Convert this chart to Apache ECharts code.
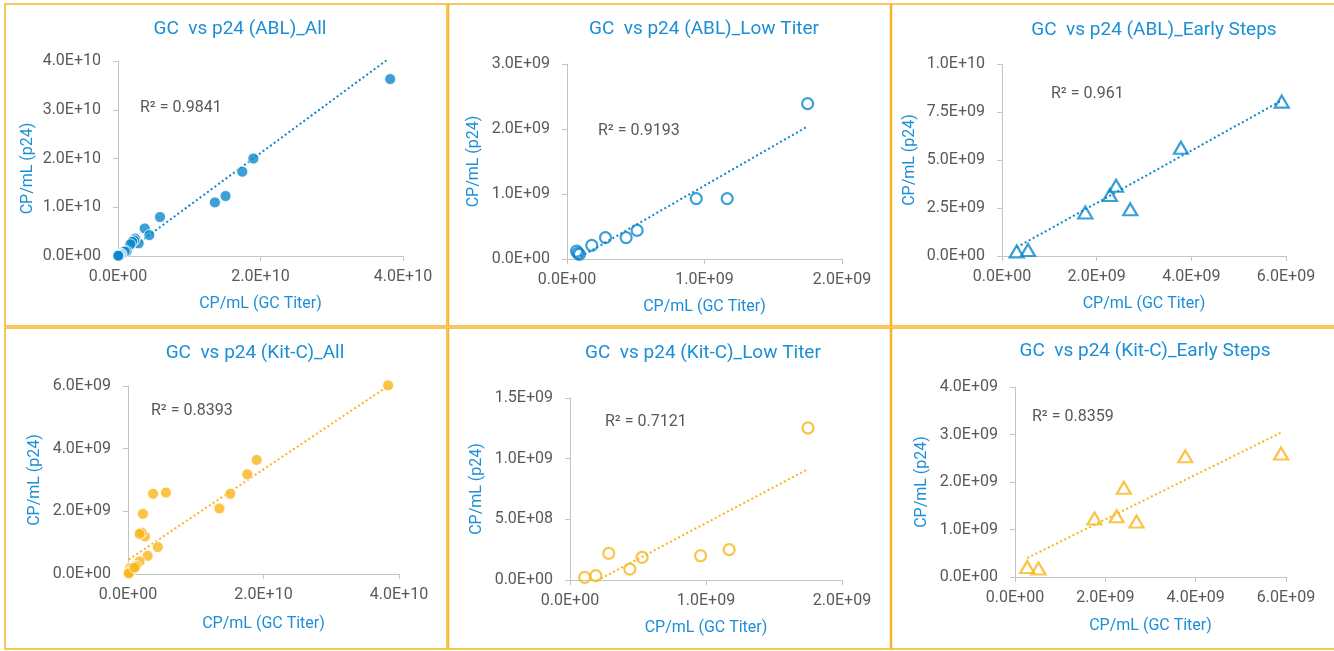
<!DOCTYPE html>
<html>
<head>
<meta charset="utf-8">
<title>GC vs p24</title>
<script src="https://cdn.jsdelivr.net/npm/echarts@6/dist/echarts.min.js"></script>
<style>
  html, body { margin: 0; padding: 0; background: #fff; }
  #chart { width: 1334px; height: 651px; }
</style>
</head>
<body>
<div id="chart"></div>
<script>
// titles / r2 labels, same order as the panels
const titles = [
  'GC  vs p24 (ABL)_All',
  'GC  vs p24 (ABL)_Low Titer',
  'GC  vs p24 (ABL)_Early Steps',
  'GC  vs p24 (Kit-C)_All',
  'GC  vs p24 (Kit-C)_Low Titer',
  'GC  vs p24 (Kit-C)_Early Steps'
]
const rSquared = ['0.9841', '0.9193', '0.961', '0.8393', '0.7121', '0.8359']

// axis ranges [max, interval] for x and y
const xAxisTicks = [[4e10, 2e10], [2e9, 1e9], [6e9, 2e9], [4e10, 2e10], [2e9, 1e9], [6e9, 2e9]]
const yAxisTicks = [[4e10, 1e10], [3e9, 1e9], [1e10, 2.5e9], [6e9, 2e9], [1.5e9, 5e8], [4e9, 1e9]]

// ABL data (GC titer, p24)
const ablAll = [
  [3.82e10, 3.63e10], [1.90e10, 2.00e10], [1.745e10, 1.73e10], [1.51e10, 1.23e10], [1.36e10, 1.10e10],
  [0.59e10, 0.80e10], [0.375e10, 0.565e10], [0.44e10, 0.43e10], [0.29e10, 0.26e10], [0.24e10, 0.36e10],
  [0.225e10, 0.32e10], [0.20e10, 0.29e10], [0.175e10, 0.24e10], [0.12e10, 0.093e10], [0.094e10, 0.093e10],
  [0.05e10, 0.044e10], [0.043e10, 0.033e10], [0.028e10, 0.033e10], [0.018e10, 0.021e10], [0.01e10, 0.01e10],
  [0.003e10, 0.005e10]
]
const ablLow = [
  [1.75e9, 2.39e9], [1.165e9, 0.93e9], [0.94e9, 0.93e9], [0.51e9, 0.44e9], [0.43e9, 0.33e9],
  [0.28e9, 0.33e9], [0.18e9, 0.21e9], [0.07e9, 0.12e9], [0.08e9, 0.09e9], [0.09e9, 0.07e9]
]
const ablEarly = [
  [5.91e9, 8.04e9], [3.78e9, 5.64e9], [2.41e9, 3.66e9], [2.28e9, 3.18e9],
  [2.71e9, 2.43e9], [1.76e9, 2.27e9], [0.55e9, 0.31e9], [0.31e9, 0.23e9]
]

// Kit-C data
const kitAll = [
  [3.84e10, 6.02e9], [1.90e10, 3.64e9], [1.76e10, 3.18e9], [1.51e10, 2.56e9], [1.35e10, 2.09e9],
  [0.56e10, 2.60e9], [0.37e10, 2.56e9], [0.22e10, 1.92e9], [0.25e10, 1.20e9], [0.20e10, 1.32e9],
  [0.17e10, 1.28e9], [0.44e10, 0.86e9], [0.29e10, 0.58e9], [0.17e10, 0.40e9], [0.10e10, 0.26e9],
  [0.07e10, 0.21e9], [0.03e10, 0.20e9], [0.05e10, 0.18e9], [0.04e10, 0.09e9], [0.02e10, 0.04e9],
  [0.01e10, 0.02e9], [0.12e10, 0.25e9], [0.095e10, 0.20e9]
]
const kitLow = [
  [1.75e9, 1.253e9], [1.17e9, 0.25e9], [0.96e9, 0.20e9], [0.53e9, 0.186e9],
  [0.44e9, 0.09e9], [0.285e9, 0.22e9], [0.19e9, 0.036e9], [0.108e9, 0.022e9]
]
const kitEarly = [
  [5.89e9, 2.60e9], [3.77e9, 2.54e9], [2.41e9, 1.88e9], [2.25e9, 1.28e9],
  [2.69e9, 1.17e9], [1.76e9, 1.23e9], [0.52e9, 0.18e9], [0.27e9, 0.21e9]
]

// linear trendline end points
const ablAllTrend = [[0.003e10, -0.04e10], [3.82e10, 4.07e10]]
const ablLowTrend = [[0.07e9, 0.0], [1.75e9, 2.04e9]]
const ablEarlyTrend = [[0.31e9, 0.45e9], [5.91e9, 8.1e9]]
const kitAllTrend = [[0.01e10, 0.46e9], [3.84e10, 6.0e9]]
const kitLowTrend = [[0.108e9, -0.059e9], [1.75e9, 0.914e9]]
const kitEarlyTrend = [[0.27e9, 0.40e9], [5.89e9, 3.04e9]]

const BLUE = '#0b87cc'
const BLUE_TEXT = '#1a8fd6'
const GOLD = '#f9b51b'
const BORDER = '#f6b526'
const GRAY = '#595959'
const AXIS = '#c4c4c4'
const FONT = 'Roboto, "Noto Sans", sans-serif'

// layout of each panel (pixels)
const panels = [
  { box: [5, 4, 442, 322], grid: [118, 61, 285, 195], title: [240, 29], r2: [140, 108], yGap: 82, xGap: 40, yPad: 20,
    data: ablAll, trend: ablAllTrend, color: BLUE, marker: 'filled' },
  { box: [448.5, 4, 442, 322], grid: [567, 64, 275, 195], title: [704, 29], r2: [598, 131], yGap: 85, xGap: 40, yPad: 0,
    data: ablLow, trend: ablLowTrend, color: BLUE, marker: 'ring' },
  { box: [891.5, 4, 446, 322], grid: [1002, 64, 284, 192], title: [1154, 30], r2: [1051, 94], yGap: 84, xGap: 40, yPad: 0,
    data: ablEarly, trend: ablEarlyTrend, color: BLUE, marker: 'tri' },
  { box: [5, 328, 442, 321], grid: [128, 386, 271, 188], title: [255, 353], r2: [151, 411], yGap: 85, xGap: 42, yPad: 0,
    data: kitAll, trend: kitAllTrend, color: GOLD, marker: 'filled' },
  { box: [448.5, 328, 442, 321], grid: [570, 398, 272, 182], title: [703, 353], r2: [605, 422], yGap: 85, xGap: 40, yPad: 0,
    data: kitLow, trend: kitLowTrend, color: GOLD, marker: 'ring' },
  { box: [891.5, 328, 446, 321], grid: [1015, 387, 271, 190], title: [1145, 351], r2: [1032, 417], yGap: 85, xGap: 41, yPad: 0,
    data: kitEarly, trend: kitEarlyTrend, color: GOLD, marker: 'tri' }
]

// 4.0E+10 style labels
function sci(v) {
  if (v === 0) return '0.0E+00'
  let e = Math.floor(Math.log10(Math.abs(v)) + 1e-9)
  let m = v / Math.pow(10, e)
  return m.toFixed(1) + 'E' + (e < 0 ? '-' : '+') + String(Math.abs(e)).padStart(2, '0')
}

function axisBase() {
  return {
    type: 'value',
    min: 0,
    splitLine: { show: false },
    axisLine: { show: true, onZero: false, lineStyle: { color: AXIS, width: 1 } },
    axisTick: { show: true, length: 5, lineStyle: { color: AXIS } },
    axisLabel: { color: GRAY, fontSize: 16, fontFamily: FONT, formatter: sci, showMinLabel: true, showMaxLabel: true },
    nameLocation: 'middle',
    nameTextStyle: { color: BLUE_TEXT, fontSize: 16, fontFamily: FONT }
  }
}

const grids = []
const xAxes = []
const yAxes = []
const series = []
const graphics = []

panels.forEach((p, i) => {
  grids.push({ left: p.grid[0], top: p.grid[1], width: p.grid[2], height: p.grid[3] })

  xAxes.push(Object.assign(axisBase(), {
    gridIndex: i,
    max: xAxisTicks[i][0],
    interval: xAxisTicks[i][1],
    name: 'CP/mL (GC Titer)',
    nameGap: p.xGap
  }))
  xAxes[i].axisLabel.margin = 13

  yAxes.push(Object.assign(axisBase(), {
    gridIndex: i,
    max: yAxisTicks[i][0],
    interval: yAxisTicks[i][1],
    name: 'CP/mL (p24)',
    nameGap: p.yGap
  }))
  yAxes[i].axisLabel.margin = 17
  if (p.yPad) yAxes[i].nameTextStyle.padding = [0, p.yPad, 0, 0]

  // trendline first so markers sit on top
  series.push({
    type: 'line',
    xAxisIndex: i,
    yAxisIndex: i,
    data: p.trend,
    symbol: 'none',
    silent: true,
    clip: true,
    lineStyle: { color: p.color, width: 2, type: [2, 2.6] },
    z: 2
  })

  let sym = {}
  if (p.marker === 'filled') {
    sym = { symbol: 'circle', symbolSize: 11, itemStyle: { color: p.color, borderColor: '#fff', borderWidth: 1 } }
  } else if (p.marker === 'ring') {
    sym = { symbol: 'circle', symbolSize: 11, itemStyle: { color: 'rgba(0,0,0,0)', borderColor: p.color, borderWidth: 2.2 } }
  } else {
    sym = { symbol: 'triangle', symbolSize: [14, 12], itemStyle: { color: 'rgba(0,0,0,0)', borderColor: p.color, borderWidth: 2.2 } }
  }
  series.push(Object.assign({
    type: 'scatter',
    xAxisIndex: i,
    yAxisIndex: i,
    data: p.data,
    clip: false,
    z: 3
  }, sym))

  graphics.push({
    type: 'rect',
    shape: { x: p.box[0], y: p.box[1], width: p.box[2], height: p.box[3] },
    style: { fill: 'none', stroke: BORDER, lineWidth: 1.5 },
    silent: true
  })
  graphics.push({
    type: 'text',
    x: p.title[0],
    y: p.title[1],
    style: { text: titles[i], fill: BLUE_TEXT, font: '19px ' + FONT, align: 'center', verticalAlign: 'middle' }
  })
  graphics.push({
    type: 'text',
    x: p.r2[0],
    y: p.r2[1],
    style: { text: 'R\u00b2 = ' + rSquared[i], fill: GRAY, font: '16px ' + FONT, align: 'left', verticalAlign: 'middle' }
  })
})

const chart = echarts.init(document.getElementById('chart'))
chart.setOption({
  animation: false,
  backgroundColor: '#fff',
  grid: grids,
  xAxis: xAxes,
  yAxis: yAxes,
  series: series,
  graphic: graphics
})
</script>
</body>
</html>
